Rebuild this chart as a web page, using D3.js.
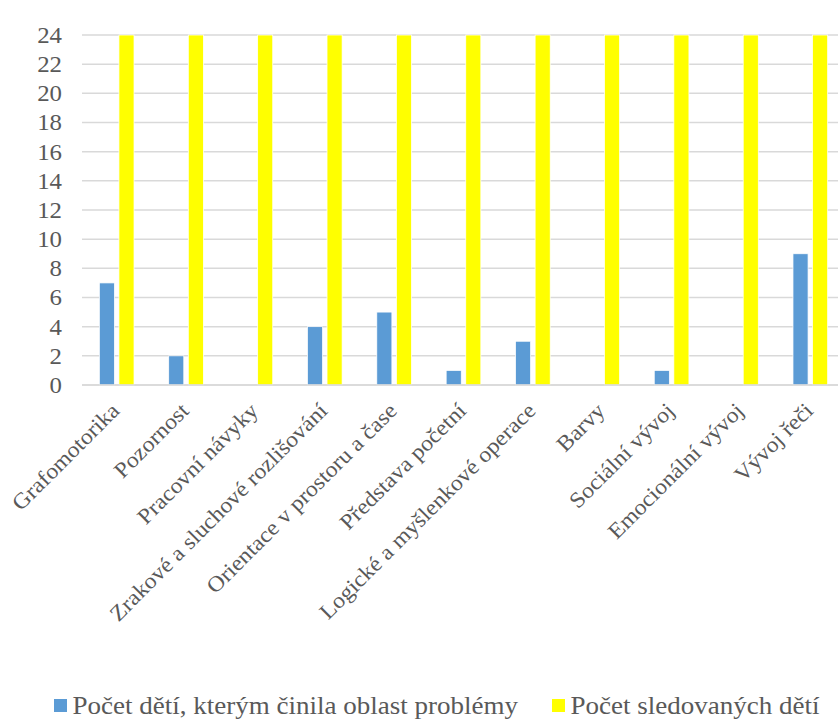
<!DOCTYPE html>
<html>
<head>
<meta charset="utf-8">
<script src="https://cdn.jsdelivr.net/npm/d3@7/dist/d3.min.js"></script>
<style>
  html, body { margin: 0; padding: 0; background: #fff; }
  svg { display: block; }
</style>
</head>
<body>
<svg id="chart" width="838" height="720"></svg>
<script>
// Oblasti vývoje a počty dětí
const categories = [
  "Grafomotorika",
  "Pozornost",
  "Pracovní návyky",
  "Zrakové a sluchové rozlišování",
  "Orientace v prostoru a čase",
  "Představa početní",
  "Logické a myšlenkové operace",
  "Barvy",
  "Sociální vývoj",
  "Emocionální vývoj",
  "Vývoj řeči"
];
const seriesNames = [
  "Počet dětí, kterým činila oblast problémy",
  "Počet sledovaných dětí"
];
const problemCounts = [7, 2, 0, 4, 5, 1, 3, 0, 1, 0, 9];
const observedCounts = [24, 24, 24, 24, 24, 24, 24, 24, 24, 24, 24];
const yTicks = [0, 2, 4, 6, 8, 10, 12, 14, 16, 18, 20, 22, 24];
const colors = ["#5B9BD5", "#FFFF00"];

const series = [problemCounts, observedCounts];
const FONT = '"Liberation Serif", "Times New Roman", serif';
const TEXT_COLOR = "#595959";
const STRETCH = 1.08; // slightly widened glyphs

const svg = d3.select("#chart");
const plot = { left: 82, right: 845, top: 35, bottom: 385 };

const x = d3.scaleBand()
  .domain(categories)
  .range([plot.left, plot.right])
  .paddingInner(0.5)
  .paddingOuter(0.25);

const xInner = d3.scaleBand()
  .domain(d3.range(series.length))
  .range([0, x.bandwidth()])
  .paddingInner(0.23);

const y = d3.scaleLinear()
  .domain([0, 24])
  .range([plot.bottom, plot.top]);

function styleText(sel, size) {
  sel.style("font-family", FONT)
    .style("font-size", `${size}px`)
    .attr("fill", TEXT_COLOR);
}

function widen(sel) {
  sel.each(function () {
    const len = this.getComputedTextLength();
    d3.select(this)
      .attr("textLength", len * STRETCH)
      .attr("lengthAdjust", "spacingAndGlyphs");
  });
}

// horizontal gridlines
svg.append("g")
  .selectAll("line")
  .data(yTicks)
  .join("line")
  .attr("x1", plot.left)
  .attr("x2", plot.right)
  .attr("y1", d => y(d))
  .attr("y2", d => y(d))
  .attr("stroke", "#D9D9D9")
  .attr("stroke-width", 1.5);

// y axis labels
const yAxis = d3.axisLeft(y).tickValues(yTicks).tickSize(0).tickPadding(20);
const gy = svg.append("g")
  .attr("transform", `translate(${plot.left},0)`)
  .call(yAxis);
gy.select(".domain").remove();
gy.selectAll("text").call(styleText, 23).call(widen);

// bars
const groups = svg.append("g")
  .selectAll("g")
  .data(categories)
  .join("g")
  .attr("transform", d => `translate(${x(d)},0)`);

groups.selectAll("rect")
  .data((d, i) => series.map((s, k) => ({ k, v: s[i] })))
  .join("rect")
  .filter(d => d.v > 0)
  .attr("x", d => xInner(d.k))
  .attr("width", xInner.bandwidth())
  .attr("y", d => y(d.v))
  .attr("height", d => y(0) - y(d.v))
  .attr("fill", d => colors[d.k])
  .attr("stroke", "#ffffff")
  .attr("stroke-width", 0.75);

// baseline
svg.append("line")
  .attr("x1", plot.left).attr("x2", plot.right)
  .attr("y1", y(0)).attr("y2", y(0))
  .attr("stroke", "#D9D9D9").attr("stroke-width", 1.5);

// rotated category labels
const xAxis = d3.axisBottom(x).tickSize(0).tickPadding(0);
const gx = svg.append("g")
  .attr("transform", `translate(0,${plot.bottom})`)
  .call(xAxis);
gx.select(".domain").remove();
gx.selectAll("text")
  .call(styleText, 22)
  .attr("text-anchor", "end")
  .attr("dy", 0)
  .attr("y", 0)
  .attr("transform", "translate(4,27) rotate(-45)")
  .call(widen);

// legend
const legendItems = [
  { name: seriesNames[0], color: colors[0], x: 54 },
  { name: seriesNames[1], color: colors[1], x: 552 }
];
const legend = svg.append("g").selectAll("g")
  .data(legendItems)
  .join("g")
  .attr("transform", d => `translate(${d.x},699)`);
legend.append("rect")
  .attr("width", 13).attr("height", 13)
  .attr("fill", d => d.color);
legend.append("text")
  .attr("x", 18.5)
  .attr("y", 15)
  .call(styleText, 25)
  .text(d => d.name)
  .call(widen);
</script>
</body>
</html>
